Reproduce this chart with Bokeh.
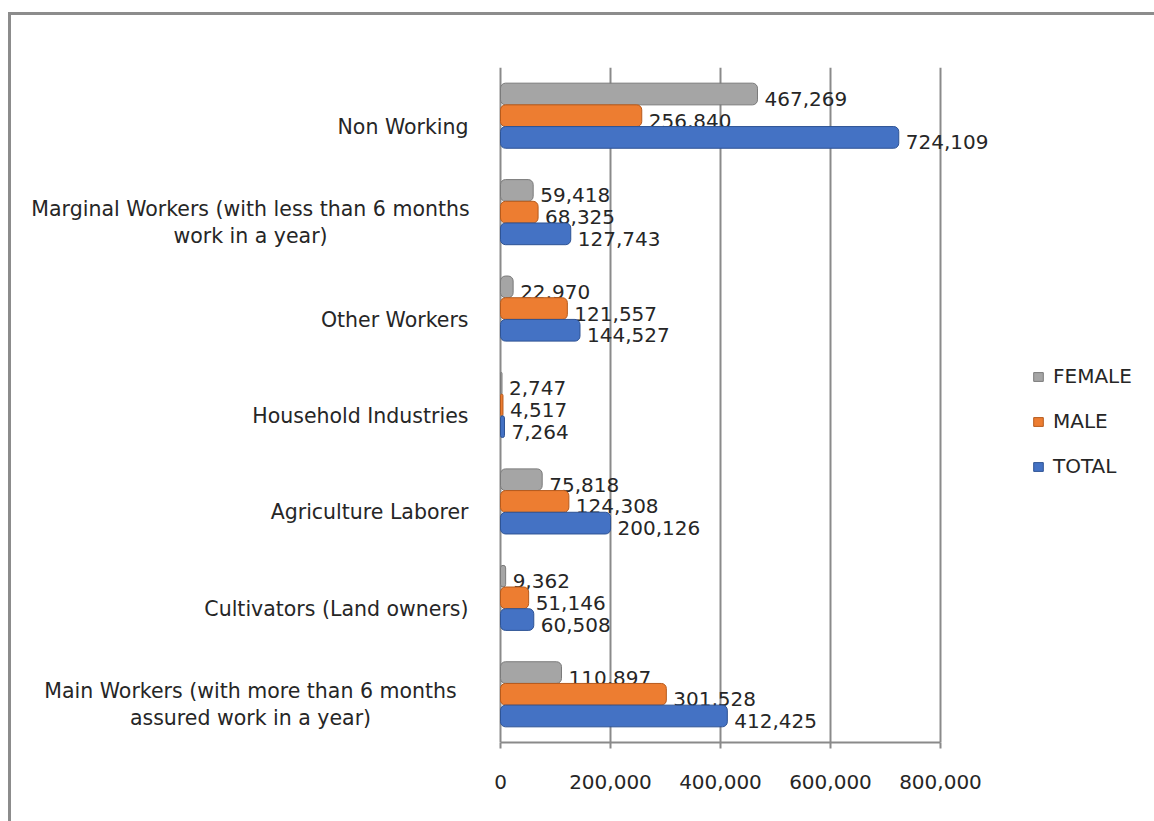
from bokeh.plotting import figure
from bokeh.models import (FactorRange, NumeralTickFormatter, Legend, LegendItem,
                          ColumnDataSource, FixedTicker)
from bokeh.layouts import column
from bokeh.transform import dodge
from bokeh.core.properties import value
from bokeh.embed import file_html
from bokeh.resources import INLINE

categories = [
    "Main Workers (with more than 6 months assured work in a year)",
    "Cultivators (Land owners)",
    "Agriculture Laborer",
    "Household Industries",
    "Other Workers",
    "Marginal Workers (with less than 6 months work in a year)",
    "Non Working",
]
female = [110897, 9362, 75818, 2747, 22970, 59418, 467269]
male = [301528, 51146, 124308, 4517, 121557, 68325, 256840]
total = [412425, 60508, 200126, 7264, 144527, 127743, 724109]
x_ticks = [0, 200000, 400000, 600000, 800000]
wrapped_labels = {
    categories[0]: ["Main Workers (with more than 6 months", "assured work in a year)"],
    categories[5]: ["Marginal Workers (with less than 6 months", "work in a year)"],
}

FONT = "DejaVu Sans"
TXT = "#262626"

src = ColumnDataSource(dict(
    cat=categories, female=female, male=male, total=total,
    female_t=[f"{v:,}" for v in female],
    male_t=[f"{v:,}" for v in male],
    total_t=[f"{v:,}" for v in total],
))

# page layout: canvas starts at page x=11; value 0 sits at page x=500, 800,000 at page x=940
W, H = 1143, 806
PX_PER_UNIT = 440 / 800000
x_start = -(500 - 11) / PX_PER_UNIT
x_end = (11 + W - 500) / PX_PER_UNIT

p = figure(width=W, height=H, y_range=FactorRange(factors=categories),
           x_range=(x_start, x_end), output_backend="svg", toolbar_location=None,
           min_border_left=0, min_border_right=0, min_border_top=52, min_border_bottom=79)
p.outline_line_color = None
p.background_fill_color = "white"
p.border_fill_color = "white"
p.yaxis.visible = False

series = [
    ("FEMALE", "female", 0.225, "#A5A5A5", "#7A7A7A"),
    ("MALE", "male", 0.0, "#ED7D31", "#B65A1C"),
    ("TOTAL", "total", -0.225, "#4472C4", "#2E5394"),
]
renderers = {}
for name, col, off, fill, edge in series:
    r = p.hbar(y=dodge("cat", off, range=p.y_range), right=col, left=0, height=0.225,
               source=src, fill_color=fill, line_color=edge, line_width=1, border_radius=5)
    renderers[name] = r
    p.text(x=col, y=dodge("cat", off, range=p.y_range), text=col + "_t", source=src,
           x_offset=7, y_offset=5, text_baseline="middle", text_align="left",
           text_font=value(FONT), text_font_size="20px", text_color=TXT)

# category labels
single = [c for c in categories if c not in wrapped_labels]
two = [c for c in categories if c in wrapped_labels]
src_single = ColumnDataSource(dict(cat=single, x=[0] * len(single)))
src_two = ColumnDataSource(dict(cat=two, x=[0] * len(two),
                                l1=[wrapped_labels[c][0] for c in two],
                                l2=[wrapped_labels[c][1] for c in two]))
p.text(x="x", y="cat", text="cat", source=src_single, x_offset=-32, y_offset=11,
       text_align="right", text_baseline="middle",
       text_font=value(FONT), text_font_size="20.5px", text_color=TXT)
p.text(x="x", y="cat", text="l1", source=src_two, x_offset=-250, y_offset=-3,
       text_align="center", text_baseline="middle",
       text_font=value(FONT), text_font_size="20.5px", text_color=TXT)
p.text(x="x", y="cat", text="l2", source=src_two, x_offset=-250, y_offset=24,
       text_align="center", text_baseline="middle",
       text_font=value(FONT), text_font_size="20.5px", text_color=TXT)

p.xaxis.ticker = FixedTicker(ticks=x_ticks)
p.xaxis.bounds = (x_ticks[0], x_ticks[-1])
p.xaxis.formatter = NumeralTickFormatter(format="0,0")
p.xaxis.major_label_text_font = FONT
p.xaxis.major_label_text_font_size = "20px"
p.xaxis.major_label_text_color = TXT
p.xaxis.axis_line_color = "#8a8a8a"
p.xaxis.axis_line_width = 2
p.xaxis.major_tick_line_color = "#8a8a8a"
p.xaxis.major_tick_line_width = 2
p.xaxis.major_tick_out = 6
p.xaxis.major_tick_in = 0
p.xaxis.minor_tick_line_color = None
p.xaxis.major_label_standoff = 26

p.xgrid.grid_line_color = "#8a8a8a"
p.xgrid.grid_line_width = 2
p.ygrid.grid_line_color = None

legend = Legend(items=[LegendItem(label=n, renderers=[renderers[n]]) for n, *_ in series],
                location=(1021, 264), orientation="vertical",
                label_text_font=FONT, label_text_font_size="20px", label_text_color=TXT,
                glyph_width=12, glyph_height=11, label_standoff=9, spacing=21,
                border_line_color=None, background_fill_alpha=0)
p.add_layout(legend, "center")

layout = column(p, margin=(12, 0, 0, 8),
                styles={"border-left": "3px solid #8c8c8c", "border-top": "3px solid #8c8c8c"})

open("out.html", "w").write(file_html(layout, INLINE))
